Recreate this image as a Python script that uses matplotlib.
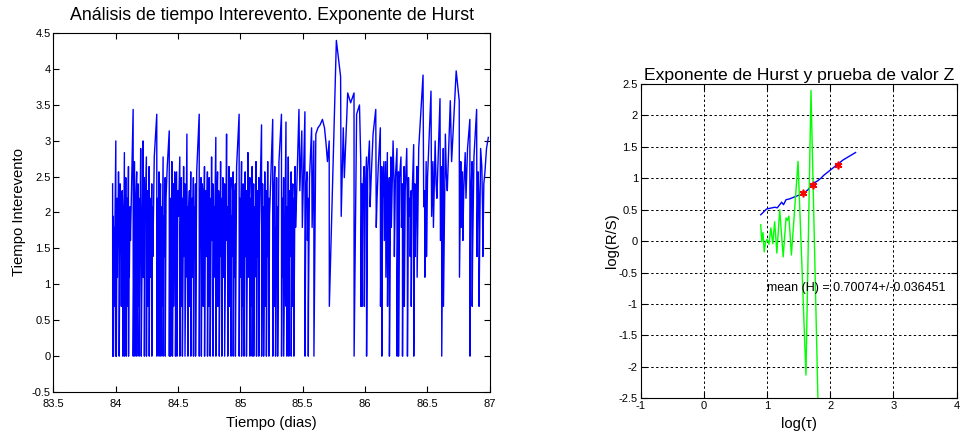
import numpy as np
import matplotlib
matplotlib.use("Agg")
import matplotlib.pyplot as plt
from matplotlib.ticker import FuncFormatter

plt.rcParams['font.family'] = ['Liberation Sans', 'DejaVu Sans']

# ---- Tiempo interevento (minutos entre eventos consecutivos) ----
t_inicio = 83.968  # dias
intervalos_min = [
    11, 1, 7, 1, 6, 2, 20, 1, 4, 1, 9, 3, 13, 7, 1, 11, 8, 4, 2, 10, 7, 1, 17, 1, 3, 12,
    5, 1, 9, 2, 14, 1, 6, 3, 8, 5, 31,
    1, 15, 3, 1, 8, 13, 1, 4, 11, 2, 9, 1, 18, 6, 1, 20, 3, 12, 1, 7, 16, 1, 5, 10, 2,
    14, 1, 6, 9, 3, 11, 1, 8, 4, 16, 29,
    1, 9, 2, 13, 1, 6, 11, 3, 1, 8, 2, 16, 1, 7, 4, 12, 1, 9, 14, 23,
    1, 4, 9, 1, 15, 6, 1, 11, 2, 13, 8, 1, 13, 3, 1, 10, 7, 16, 1, 5, 12, 2, 9, 1, 14,
    4, 11, 1, 22, 3, 8, 1, 7, 10, 2, 13, 1, 6, 9, 3, 12, 1, 8, 4, 11, 1, 13, 29,
    1, 8, 12, 3, 1, 11, 9, 2, 14, 1, 6, 10, 4, 13, 1, 7, 12, 2, 9, 1, 16, 5, 11, 1, 8,
    3, 21, 1, 6, 13, 2, 10, 7, 1, 15, 4, 9, 1, 12, 6, 3, 11, 1, 22, 5, 8, 1, 14, 2, 9,
    12, 1, 7, 4, 13, 1, 10, 3, 11, 1, 14, 29,
    1, 9, 3, 15, 1, 6, 11, 2, 8, 1, 13, 4, 10, 1, 17, 3, 7, 12, 1, 9, 2, 14, 1, 6, 11,
    1, 8, 3, 15, 5, 1, 10, 4, 12, 1, 6, 25,
    1, 11, 3, 8, 1, 13, 6, 2, 10, 1, 15, 4, 9, 1, 7, 10, 27,
    1, 9, 14, 2, 6, 1, 12, 3, 8, 1, 15, 29,
    1, 9, 3, 12, 1, 26, 2, 8, 1, 16, 5, 1, 10, 4, 13, 1, 7, 11, 2, 9, 1, 14, 6, 8, 31,
    10, 23, 6, 30, 1,
    10, 13, 5, 9, 1, 2, 12, 24, 6, 20, 1, 22, 24, 25, 27, 24, 19, 15, 20, 2,
    81, 49, 7, 24, 12, 39, 34, 39, 1, 29, 33, 15,
    2, 11, 2, 10, 14, 2, 9, 16, 1, 13, 20, 8, 12, 22, 31,
    6, 9, 14, 24,
    2, 14, 1, 9, 15, 5, 15, 3, 17, 2, 9, 12, 1, 16, 6, 20, 11, 4, 12, 18,
    1, 3, 13, 1, 12, 16, 6, 11, 1, 5, 14, 2, 10, 18, 7, 1, 12, 7, 9, 4, 10, 2, 9, 19,
    1, 11, 4, 7, 14, 3, 18, 50,
    8, 10, 3, 15, 4, 12, 40,
    7, 15, 6, 20, 11, 9, 36,
    5, 14, 1, 18, 2, 22, 12, 10, 35,
    15, 53,
    35, 3, 15, 6, 13, 5, 10, 17, 9, 18, 27,
    1, 9, 15, 2, 4, 16, 31,
    4, 13, 9, 2, 18, 14, 8, 4, 11, 13, 18, 21,
]

# ---- Analisis R/S ----
rs_logtau = [0.90, 0.95, 0.99, 1.03, 1.08, 1.12, 1.16, 1.20, 1.23, 1.26, 1.30, 1.35,
             1.40, 1.45, 1.50, 1.55, 1.60, 1.65, 1.70, 1.75, 1.80, 1.85, 1.90, 1.95,
             2.00, 2.05, 2.10, 2.15, 2.20, 2.25, 2.30, 2.35, 2.40]
rs_logrs = [0.42, 0.47, 0.51, 0.52, 0.53, 0.54, 0.53, 0.58, 0.62, 0.58, 0.66, 0.67,
            0.69, 0.71, 0.73, 0.75, 0.78, 0.82, 0.89, 0.93, 0.96, 1.00, 1.05, 1.09,
            1.13, 1.17, 1.21, 1.25, 1.29, 1.32, 1.35, 1.38, 1.41]
z_logtau = [0.90, 0.915, 0.935, 0.955, 0.975, 1.00, 1.03, 1.06, 1.09, 1.12, 1.155,
            1.20, 1.255, 1.30, 1.32, 1.345, 1.385, 1.49, 1.615, 1.695, 1.81]
z_valor = [0.26, -0.01, 0.14, -0.17, -0.02, 0.03, -0.05, 0.21, -0.04, 0.31, -0.19,
           0.50, -0.25, 0.37, 0.33, 0.40, -0.22, 1.27, -2.13, 2.40, -2.75]
sel_logtau = [1.57, 1.72, 2.12]
sel_logrs = [0.76, 0.90, 1.21]
H_media = 0.70074
H_desv = 0.036451

fig = plt.figure(figsize=(9.64, 4.44), dpi=100)
fmt = FuncFormatter(lambda v, p: f"{v:g}")

# ---- Serie temporal ----
ax1 = fig.add_axes([0.0553, 0.117, 0.4527, 0.809])
n = np.array(intervalos_min, dtype=float)
t = t_inicio + np.cumsum(n) / 1440.0
ax1.plot(t, np.log(n), color=(0, 0, 1), lw=1.0)
ax1.set_xlim(83.5, 87)
ax1.set_ylim(-0.5, 4.5)
ax1.set_xticks(np.arange(83.5, 87.01, 0.5))
ax1.set_yticks(np.arange(-0.5, 4.51, 0.5))
ax1.xaxis.set_major_formatter(fmt)
ax1.yaxis.set_major_formatter(fmt)
ax1.tick_params(direction='in', top=True, right=True, labelsize=8, length=4)
ax1.tick_params(axis='x', pad=5)
ax1.tick_params(axis='y', pad=2)
ax1.set_title('Análisis de tiempo Interevento. Exponente de Hurst', fontsize=12.8, pad=9)
ax1.set_xlabel('Tiempo (dias)', fontsize=10.7, labelpad=5)
ax1.set_ylabel('Tiempo Interevento', fontsize=10.7, labelpad=4)
for s in ax1.spines.values():
    s.set_linewidth(0.8)

# ---- Exponente de Hurst ----
ax2 = fig.add_axes([0.6646, 0.1029, 0.3278, 0.7079])
ax2.plot(rs_logtau, rs_logrs, color=(0, 0, 1), lw=1.0)
ax2.plot(z_logtau, z_valor, color=(0, 1, 0), lw=1.0)
ax2.plot(sel_logtau, sel_logrs, linestyle='none', marker=(6, 2, 0), color='r',
         markersize=5.5, markeredgewidth=1.2)
ax2.set_xlim(-1, 4)
ax2.set_ylim(-2.5, 2.5)
ax2.set_xticks(np.arange(-1, 4.01, 1))
ax2.set_yticks(np.arange(-2.5, 2.51, 0.5))
ax2.xaxis.set_major_formatter(fmt)
ax2.yaxis.set_major_formatter(fmt)
ax2.grid(True, color='k', linestyle=(0, (2.5, 2.5)), lw=0.7)
ax2.tick_params(direction='in', top=True, right=True, labelsize=8, length=4, pad=2)
ax2.set_title('Exponente de Hurst y prueba de valor Z', fontsize=12.6, pad=3)
ax2.set_xlabel('log(τ)', fontsize=10.7, labelpad=4)
ax2.set_ylabel('log(R/S)', fontsize=10.7, labelpad=0)
ax2.text(1.0, -0.74, f'mean (H) = {H_media}+/-{H_desv}', fontsize=9, va='center')
for s in ax2.spines.values():
    s.set_linewidth(0.8)

fig.savefig('out.png', dpi=100)
